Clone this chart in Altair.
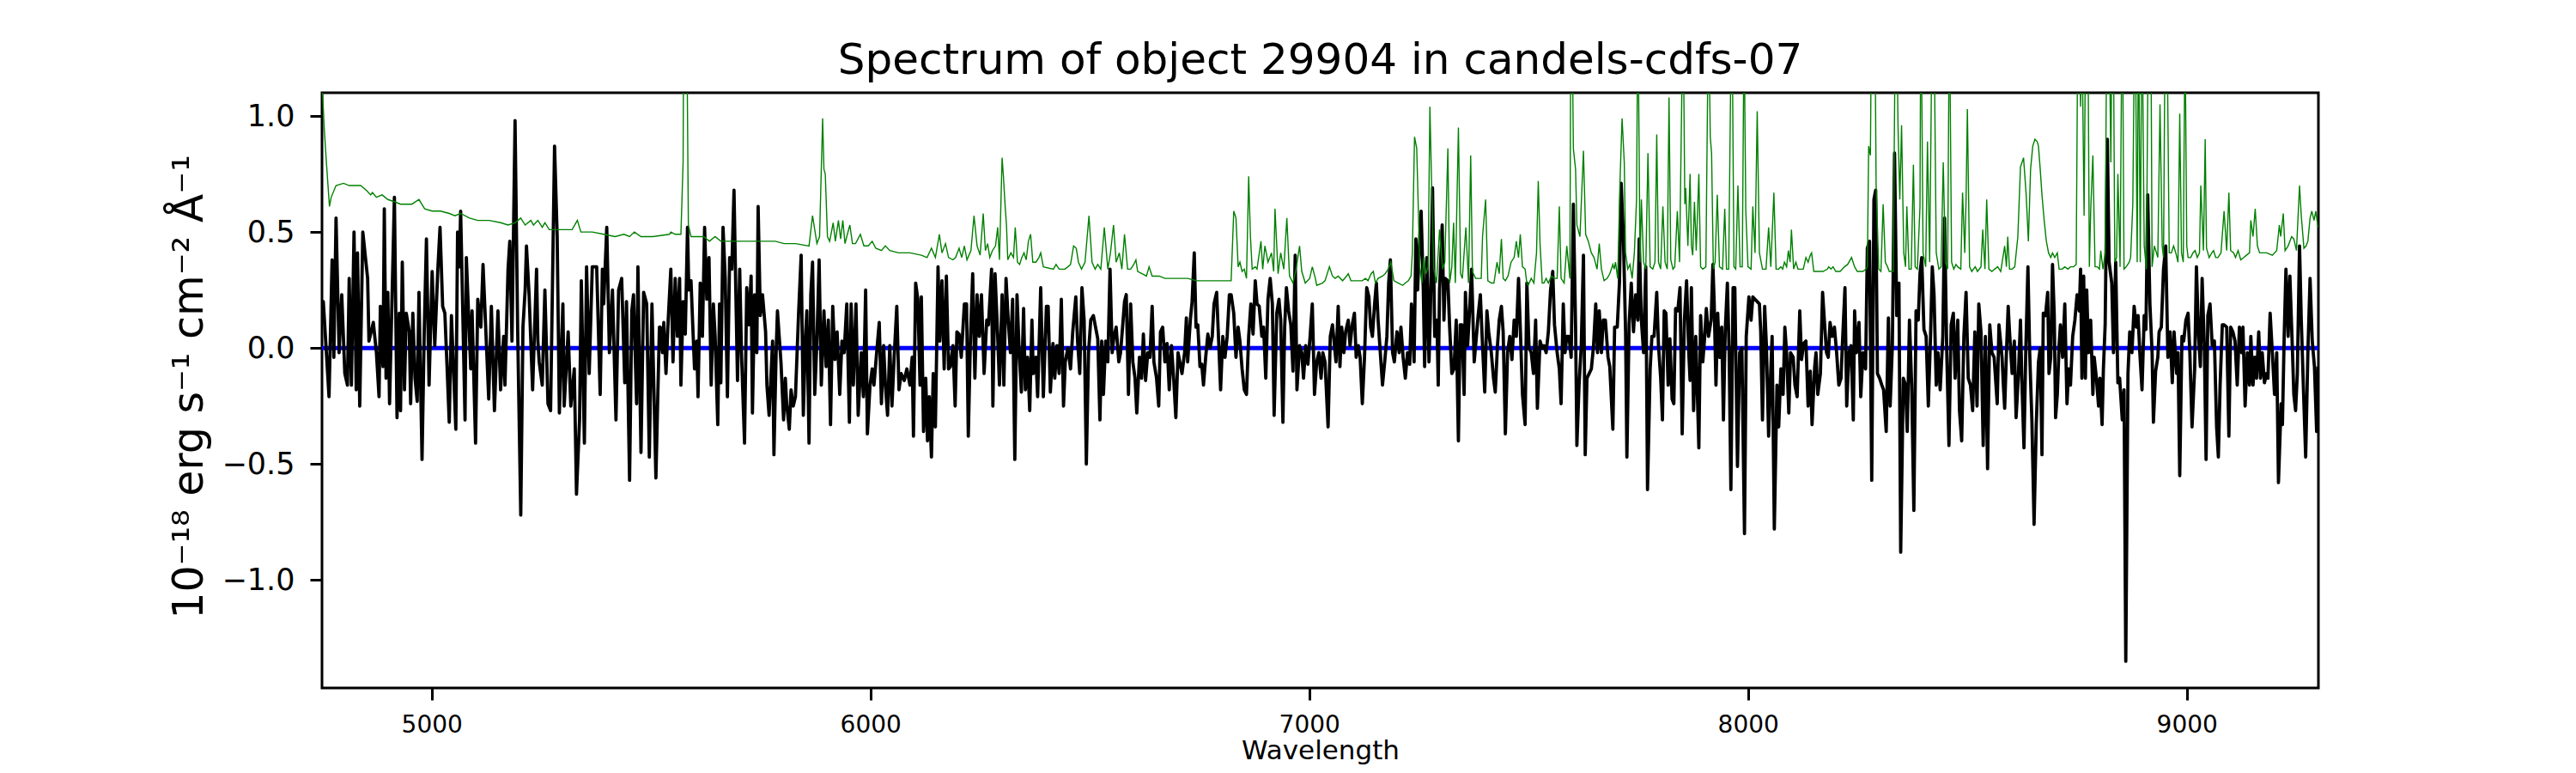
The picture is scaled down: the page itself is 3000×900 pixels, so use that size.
import altair as alt
import pandas as pd

# ---------------- observed spectrum (black) ----------------
flux_wl_a = [4750, 4753, 4766, 4773, 4777, 4782, 4789, 4795, 4802, 4808,
             4812, 4817, 4823, 4828, 4831, 4836, 4843, 4854, 4857, 4867,
             4874, 4880, 4883, 4889, 4892, 4896, 4900, 4904, 4915, 4921,
             4926, 4929, 4933, 4938, 4942, 4949, 4952, 4957, 4962, 4967,
             4971, 4978, 4983, 4988, 4994, 5001, 5007, 5014, 5019, 5025,
             5030, 5035, 5040, 5045, 5055, 5059, 5063, 5066, 5076, 5079,
             5089, 5092, 5100, 5105, 5112, 5117, 5130, 5136, 5143, 5151,
             5157, 5164, 5167, 5174, 5178, 5183, 5190, 5196, 5203, 5208,
             5213, 5216, 5222, 5230, 5239, 5242, 5245, 5252, 5258, 5265,
             5271, 5280, 5286, 5291, 5299, 5302, 5311, 5317, 5325, 5330,
             5337, 5341, 5348, 5353, 5359, 5366, 5376, 5384, 5389, 5392,
             5399, 5405, 5412, 5420, 5426, 5433, 5440, 5444, 5451, 5456,
             5460, 5467, 5470, 5477, 5483, 5490, 5496, 5502, 5511, 5519]
flux_val_a = [0.12, 0.20, -0.21, 0.38, -0.04, 0.56, -0.02, 0.23, -0.11, -0.16,
              0.30, -0.16, 0.50, -0.18, 0.41, -0.25, 0.50, 0.30, 0.03, 0.11,
              -0.02, -0.21, 0.18, -0.08, 0.60, -0.13, 0.24, -0.24, 0.65, -0.30,
              0.15, -0.27, 0.37, -0.18, 0.15, 0.07, -0.24, 0.15, -0.13, -0.23,
              0.24, -0.48, 0.07, 0.47, -0.16, 0.33, 0.01, 0.34, 0.52, 0.18,
              0.15, -0.08, -0.32, 0.14, -0.35, 0.50, 0.35, 0.59, -0.31, 0.39,
              -0.09, 0.16, -0.41, 0.21, 0.09, 0.36, -0.22, 0.18, -0.27, 0.16,
              -0.18, 0.05, -0.16, 0.34, 0.46, 0.03, 0.98, 0.07, -0.72, 0.09,
              0.25, 0.44, 0.23, -0.18, 0.34, 0.03, -0.06, -0.16, 0.25, -0.24,
              -0.27, 0.87, 0.48, -0.28, 0.19, -0.25, 0.07, -0.25, -0.09, -0.63,
              -0.31, 0.29, -0.41, 0.35, -0.11, 0.35, 0.35, -0.20, 0.34, 0.19,
              0.52, -0.02, 0.25, -0.31, 0.25, 0.30, -0.15, 0.20, -0.57, 0.16,
              0.23, -0.24, 0.35, -0.45, 0.24, 0.19, -0.47, 0.19, -0.56, 0.09]

flux_wl_b = [5521, 5526, 5529, 5534, 5539, 5545, 5550, 5555, 5560, 5565,
             5568, 5573, 5578, 5583, 5586, 5591, 5596, 5599, 5604, 5607,
             5612, 5617, 5622, 5627, 5632, 5637, 5642, 5646, 5652, 5656,
             5659, 5664, 5669, 5674, 5679, 5684, 5689, 5693, 5697, 5702,
             5706, 5713, 5718, 5723, 5728, 5731, 5736, 5741, 5744, 5749,
             5754, 5761, 5764, 5769, 5774, 5777, 5780, 5785, 5788, 5792,
             5796, 5802, 5806, 5809, 5815, 5819, 5824, 5829, 5836, 5842,
             5847, 5852, 5855, 5860, 5864, 5868, 5873, 5878, 5883, 5888,
             5894, 5899, 5904, 5909, 5914, 5919, 5924, 5930, 5935, 5940,
             5946, 5952, 5956, 5961, 5967, 5972, 5979, 5984, 5989, 5993,
             5999, 6004, 6008, 6015, 6020, 6025, 6030, 6034, 6039, 6044,
             6049, 6054, 6060, 6065, 6070, 6077, 6083, 6090, 6095, 6098,
             6103, 6108, 6113, 6116, 6121, 6126, 6130, 6134, 6139, 6143,
             6148, 6154, 6158, 6163, 6168, 6173, 6178, 6182, 6188, 6193,
             6197, 6202, 6207, 6214, 6219, 6223, 6228, 6233, 6238, 6243,
             6248, 6253, 6259, 6265, 6269, 6276, 6279, 6284]
flux_val_b = [0.09, -0.02, 0.11, -0.11, 0.12, 0.34, -0.06, 0.30, 0.05, 0.30,
              -0.16, 0.20, 0.06, 0.52, 0.25, 0.29, 0.05, -0.09, 0.03, -0.21,
              0.28, 0.05, 0.52, 0.21, 0.39, -0.16, 0.19, 0.05, -0.33, 0.19,
              -0.15, 0.52, 0.30, -0.21, 0.39, 0.34, 0.68, 0.26, -0.14, 0.34,
              -0.02, -0.41, 0.26, 0.10, 0.31, -0.28, 0.23, -0.02, 0.61, 0.14,
              0.23, 0.07, -0.16, -0.29, -0.09, 0.03, -0.46, -0.02, 0.16, 0.05,
              -0.06, -0.31, -0.13, -0.24, -0.35, -0.18, -0.25, -0.21, 0.14, 0.40,
              -0.29, 0.05, 0.16, -0.41, 0.23, 0.37, -0.20, 0.03, 0.38, -0.16,
              0.16, -0.08, 0.12, -0.33, 0.18, -0.05, 0.07, -0.20, 0.03, -0.02,
              0.19, -0.32, 0.19, -0.16, 0.19, -0.29, -0.02, -0.21, 0.25, -0.37,
              -0.16, -0.09, -0.16, 0.00, 0.11, -0.24, 0.01, -0.16, -0.29, 0.01,
              -0.25, -0.04, 0.18, -0.18, -0.11, -0.14, -0.09, -0.16, -0.04, -0.38,
              0.28, 0.21, -0.16, 0.22, -0.36, -0.13, -0.40, -0.21, -0.47, -0.11,
              -0.34, 0.35, 0.03, 0.29, -0.09, 0.31, -0.09, -0.08, 0.01, -0.25,
              0.07, 0.06, -0.04, 0.19, 0.19, -0.38, 0.05, 0.32, -0.13, 0.23,
              0.05, 0.23, -0.11, 0.12, 0.10, 0.34, -0.25, 0.32]

flux_wl_c = [6290, 6294, 6300, 6304, 6309, 6314, 6319, 6324, 6329, 6334,
             6339, 6344, 6349, 6353, 6358, 6363, 6368, 6371, 6377, 6381,
             6388, 6394, 6401, 6405, 6410, 6416, 6420, 6425, 6430, 6435,
             6440, 6444, 6450, 6456, 6461, 6468, 6472, 6477, 6482, 6487,
             6492, 6497, 6502, 6508, 6513, 6518, 6523, 6527, 6531, 6536,
             6541, 6546, 6551, 6555, 6560, 6566, 6570, 6575, 6579, 6583,
             6588, 6593, 6598, 6603, 6607, 6613, 6618, 6622, 6627, 6632,
             6637, 6642, 6646, 6652, 6657, 6661, 6666, 6671, 6676, 6681,
             6686, 6691, 6696, 6701, 6705, 6710, 6716, 6720, 6723, 6729,
             6733, 6738, 6742, 6746, 6751, 6755, 6759, 6764, 6769, 6774,
             6779, 6783, 6789, 6794, 6798, 6803, 6808, 6813, 6818, 6822,
             6828, 6833, 6838, 6842, 6847, 6852, 6857, 6862, 6867, 6872,
             6877, 6881, 6886, 6892, 6896, 6901, 6906, 6911, 6916, 6920,
             6926, 6931, 6935, 6940, 6944, 6948, 6953, 6958, 6963, 6968,
             6972, 6978, 6983, 6987, 6992, 6997, 7002, 7007, 7012, 7017,
             7022, 7027, 7031, 7036, 7043, 7048]
flux_val_c = [0.05, -0.16, 0.23, -0.16, 0.30, 0.12, -0.02, 0.21, -0.48, 0.23,
              -0.02, -0.19, 0.17, -0.18, -0.04, -0.27, 0.12, -0.11, -0.04, -0.21,
              0.26, -0.21, 0.18, 0.18, -0.19, 0.02, -0.13, 0.01, -0.11, 0.21,
              -0.25, -0.06, 0.00, -0.09, 0.07, 0.22, 0.03, -0.11, 0.26, 0.12,
              -0.50, -0.02, 0.12, 0.14, 0.09, 0.04, -0.31, 0.03, -0.20, 0.03,
              -0.06, 0.34, -0.02, 0.05, 0.09, -0.06, -0.02, 0.10, 0.20, 0.23,
              -0.20, 0.19, -0.06, -0.13, -0.28, -0.04, -0.13, 0.06, -0.14, -0.02,
              -0.04, 0.18, -0.06, -0.13, -0.25, 0.07, 0.09, -0.06, 0.02, -0.18,
              0.01, -0.13, -0.30, -0.02, -0.06, -0.11, -0.02, 0.13, -0.06, 0.12,
              0.20, 0.41, 0.09, 0.10, -0.08, -0.07, -0.16, -0.04, 0.06, 0.00,
              0.05, 0.19, 0.24, 0.01, -0.18, 0.05, -0.04, 0.05, 0.23, 0.23,
              0.15, -0.04, 0.09, 0.03, -0.09, -0.18, -0.20, 0.05, 0.19, 0.06,
              0.29, 0.19, 0.18, 0.05, 0.09, -0.13, 0.21, 0.30, 0.19, -0.29,
              0.15, 0.21, 0.12, -0.32, 0.09, 0.26, 0.16, 0.10, -0.10, 0.40,
              -0.18, 0.01, -0.02, -0.13, 0.01, -0.07, 0.05, 0.19, -0.20, -0.06,
              -0.02, -0.13, -0.02, -0.06, -0.34, 0.05]

flux_wl_d = [7053, 7061, 7066, 7070, 7074, 7079, 7083, 7089, 7093, 7098,
             7103, 7107, 7112, 7116, 7121, 7126, 7131, 7136, 7140, 7144,
             7149, 7153, 7157, 7162, 7167, 7172, 7177, 7181, 7185, 7190,
             7194, 7200, 7205, 7209, 7214, 7219, 7224, 7229, 7233, 7239,
             7243, 7247, 7252, 7255, 7260, 7263, 7268, 7273, 7276, 7281,
             7286, 7291, 7294, 7297, 7303, 7307, 7310, 7316, 7320, 7325,
             7330, 7335, 7340, 7344, 7348, 7353, 7356, 7361, 7366, 7370,
             7376, 7381, 7385, 7390, 7395, 7400, 7405, 7409, 7415, 7420,
             7424, 7429, 7433, 7438, 7442, 7447, 7452, 7457, 7462, 7467,
             7472, 7477, 7481, 7486, 7492, 7496, 7501, 7506, 7511, 7516,
             7520, 7526, 7531, 7535, 7540, 7545, 7550, 7555, 7559, 7565,
             7570, 7574, 7579, 7583, 7587, 7592, 7597, 7602, 7607, 7610,
             7615, 7620, 7625, 7629, 7633, 7638, 7643, 7648, 7653, 7657,
             7661, 7666, 7670, 7675, 7681, 7685, 7692, 7696, 7702, 7707,
             7711, 7716, 7721, 7724, 7729, 7734, 7739, 7744, 7749, 7752,
             7757, 7762, 7767, 7771, 7777, 7781, 7786, 7792, 7796, 7801,
             7805, 7809]
flux_val_d = [0.10, -0.06, 0.18, -0.08, 0.09, -0.02, 0.07, 0.12, 0.01, 0.10,
              0.15, -0.04, 0.01, -0.04, -0.24, -0.04, 0.26, 0.22, 0.09, 0.05,
              0.19, 0.28, 0.12, -0.02, -0.16, -0.06, 0.05, 0.28, 0.38, -0.02,
              -0.06, 0.07, -0.02, 0.09, -0.04, -0.13, -0.02, -0.07, 0.19, -0.06,
              0.47, 0.25, 0.48, 0.59, 0.25, -0.08, 0.39, -0.06, 0.14, 0.69,
              0.05, 0.12, -0.16, 0.25, 0.53, 0.12, 0.30, 0.29, 0.09, -0.11,
              -0.09, 0.12, -0.40, 0.10, 0.10, -0.20, 0.24, 0.01, 0.18, 0.34,
              -0.06, 0.05, 0.14, 0.23, 0.01, -0.19, 0.16, 0.07, -0.02, -0.13,
              -0.19, 0.01, 0.12, 0.18, 0.07, -0.37, -0.02, 0.05, -0.05, 0.12,
              0.05, 0.30, 0.09, -0.20, -0.33, 0.28, 0.00, -0.02, -0.11, 0.12,
              -0.26, 0.03, 0.00, 0.01, -0.02, 0.07, 0.25, 0.33, 0.10, -0.02,
              -0.09, -0.24, 0.19, -0.02, 0.05, 0.05, -0.04, 0.62, 0.10, -0.42,
              -0.16, 0.01, 0.40, -0.46, -0.13, -0.11, -0.09, 0.01, 0.19, -0.02,
              0.16, -0.02, 0.12, 0.12, -0.04, -0.08, -0.35, 0.09, 0.09, 0.28,
              0.71, 0.48, 0.07, -0.47, 0.10, 0.28, 0.07, 0.23, 0.12, 0.47,
              0.12, -0.02, 0.35, -0.61, -0.09, 0.05, 0.05, 0.24, 0.01, -0.13,
              -0.31, 0.16]

flux_wl_e = [7813, 7818, 7822, 7827, 7831, 7835, 7840, 7845, 7850, 7855,
             7860, 7865, 7868, 7871, 7876, 7881, 7888, 7892, 7897, 7901,
             7905, 7910, 7916, 7920, 7923, 7927, 7931, 7935, 7940, 7944,
             7948, 7953, 7957, 7961, 7966, 7970, 7976, 7981, 7986, 7992,
             7996, 8002, 8007, 8011, 8016, 8021, 8026, 8029, 8033, 8038,
             8042, 8047, 8052, 8055, 8060, 8066, 8070, 8075, 8080, 8084,
             8088, 8093, 8097, 8103, 8107, 8112, 8118, 8122, 8127, 8132,
             8137, 8142, 8146, 8152, 8155, 8159, 8165, 8170, 8174, 8179,
             8183, 8187, 8192, 8197, 8202, 8207, 8212, 8215, 8221, 8225,
             8230, 8235, 8240, 8243, 8247, 8253, 8257, 8262, 8268, 8272,
             8277, 8282, 8287, 8291, 8295, 8300, 8305, 8309, 8315, 8320,
             8324, 8329, 8334, 8339, 8344, 8348, 8354, 8359, 8363, 8368,
             8373, 8378, 8383, 8388, 8392, 8396, 8401, 8406, 8411, 8416,
             8420, 8424, 8429, 8433, 8438, 8444, 8448, 8453, 8458, 8463,
             8468, 8472, 8478, 8482, 8487, 8492, 8497, 8502, 8507, 8512,
             8517, 8522, 8526, 8531, 8536, 8541, 8546, 8551, 8556, 8561,
             8568, 8572]
flux_val_e = [0.15, -0.16, 0.04, -0.22, -0.24, 0.17, 0.16, 0.26, -0.37, 0.12,
              0.29, -0.02, -0.14, 0.26, -0.27, 0.05, -0.43, 0.14, -0.06, 0.04,
              0.17, 0.05, 0.12, 0.36, 0.19, -0.16, 0.15, -0.04, 0.09, -0.31,
              0.07, 0.28, -0.02, -0.61, 0.26, 0.26, -0.51, -0.02, 0.00, -0.80,
              0.05, 0.22, 0.12, 0.22, 0.21, 0.20, 0.19, 0.07, -0.31, 0.18,
              0.01, -0.38, -0.09, 0.05, -0.78, -0.16, -0.34, -0.09, -0.20, 0.09,
              -0.02, -0.28, -0.02, -0.04, -0.16, -0.21, 0.16, -0.05, 0.02, 0.03,
              -0.25, -0.10, -0.33, -0.08, -0.02, -0.20, -0.11, 0.24, 0.12, -0.02,
              -0.04, 0.11, 0.05, 0.09, -0.02, -0.16, -0.13, 0.01, 0.26, -0.25,
              -0.02, 0.01, -0.31, 0.16, -0.02, 0.11, -0.21, -0.02, -0.09, 0.43,
              0.46, -0.57, 0.64, 0.68, -0.11, -0.13, -0.16, -0.18, -0.36, 0.13,
              -0.25, 0.01, 0.84, 0.14, 0.28, -0.88, -0.13, -0.16, -0.36, 0.12,
              -0.16, -0.70, 0.16, 0.12, 0.32, 0.39, 0.08, 0.05, -0.25, 0.05,
              0.35, 0.23, -0.16, -0.02, -0.18, 0.05, 0.56, -0.02, -0.42, 0.10,
              0.15, -0.13, 0.12, -0.27, -0.40, 0.05, 0.24, -0.13, -0.16, -0.27,
              0.07, -0.25, 0.19, 0.07, -0.42, 0.05, -0.52, 0.10, -0.02, -0.04,
              -0.24, 0.10]

flux_wl_f = [8579, 8582, 8585, 8589, 8593, 8596, 8602, 8607, 8611, 8616,
             8621, 8624, 8629, 8633, 8638, 8642, 8647, 8652, 8657, 8662,
             8666, 8670, 8673, 8678, 8683, 8686, 8690, 8694, 8698, 8701,
             8705, 8709, 8712, 8717, 8722, 8727, 8731, 8735, 8740, 8745,
             8750, 8755, 8758, 8761, 8765, 8769, 8772, 8776, 8781, 8786,
             8789, 8794, 8799, 8802, 8807, 8810, 8814, 8819, 8823, 8829,
             8833, 8838, 8843, 8847, 8853, 8857, 8861, 8866, 8870, 8875,
             8880, 8885, 8889, 8893, 8898, 8903, 8907, 8911, 8916, 8921,
             8924, 8929, 8934, 8937, 8942, 8947, 8952, 8957, 8962, 8967,
             8971, 8977, 8980, 8984, 8989, 8993, 8998, 9003, 9007, 9012,
             9018, 9022, 9027, 9031, 9035, 9040, 9044, 9048, 9053, 9058,
             9063, 9068, 9072, 9076, 9081, 9085, 9091, 9096, 9100, 9105,
             9110, 9115, 9120, 9125, 9128, 9133, 9138, 9143, 9146, 9151,
             9155, 9159, 9164, 9168, 9172, 9177, 9182, 9185, 9190, 9195,
             9200, 9205, 9209, 9215, 9218, 9222, 9226, 9231, 9235, 9241,
             9244, 9248, 9252, 9257, 9261, 9267, 9271, 9276, 9281, 9286,
             9291, 9296, 9299]
flux_val_f = [-0.04, -0.16, -0.26, -0.02, 0.18, 0.07, -0.11, 0.03, -0.30, -0.13,
              0.12, -0.13, -0.43, -0.02, 0.35, -0.02, -0.31, -0.76, -0.33, -0.06,
              0.00, -0.46, 0.15, 0.14, 0.24, -0.11, -0.04, 0.36, 0.14, -0.30,
              -0.20, 0.01, 0.10, -0.04, 0.19, -0.24, -0.09, -0.16, 0.05, 0.12,
              0.23, 0.16, 0.34, -0.13, 0.31, -0.13, 0.25, -0.02, 0.12, -0.20,
              -0.04, -0.13, -0.25, -0.13, -0.33, -0.09, 0.10, 0.90, 0.37, 0.28,
              -0.02, 0.37, -0.15, -0.13, -0.31, -0.18, -1.35, -0.11, 0.07, -0.02,
              0.18, 0.09, 0.14, -0.02, -0.18, 0.14, 0.08, 0.66, 0.19, -0.02,
              -0.32, -0.10, -0.04, 0.07, 0.09, 0.34, 0.44, -0.04, 0.07, -0.15,
              0.07, -0.11, -0.02, -0.55, 0.05, 0.03, 0.12, 0.15, -0.02, -0.34,
              -0.09, 0.35, 0.05, -0.08, 0.30, 0.01, -0.48, 0.14, 0.19, 0.01,
              0.03, -0.34, -0.47, -0.16, 0.10, 0.10, 0.09, -0.38, 0.09, 0.07,
              0.03, -0.16, 0.09, -0.02, 0.09, -0.25, -0.02, -0.16, 0.05, -0.16,
              -0.04, -0.13, 0.07, -0.13, -0.02, -0.15, -0.11, -0.13, 0.15, -0.02,
              -0.20, -0.02, -0.58, -0.24, -0.33, 0.05, 0.34, 0.05, 0.31, -0.02,
              -0.20, -0.27, -0.11, 0.44, 0.12, -0.24, -0.47, -0.02, 0.30, 0.03,
              -0.08, -0.36, -0.08]

# ---------------- noise / sky spectrum (green) ----------------
sky_wl_a = [4750, 4755, 4760, 4767, 4771, 4782, 4799, 4812, 4838, 4851,
            4861, 4865, 4874, 4887, 4900, 4916, 4929, 4955, 4971, 4984,
            5001, 5020, 5040, 5053, 5066, 5086, 5105, 5131, 5157, 5174,
            5190, 5203, 5213, 5226, 5232, 5242, 5252, 5258, 5268, 5281,
            5307, 5320, 5332, 5340, 5366, 5392, 5418, 5438, 5451, 5462,
            5477]
sky_val_a = [1.15, 0.95, 0.80, 0.61, 0.65, 0.70, 0.71, 0.70, 0.70, 0.68,
             0.66, 0.67, 0.65, 0.66, 0.64, 0.63, 0.62, 0.62, 0.64, 0.60,
             0.59, 0.59, 0.58, 0.57, 0.58, 0.56, 0.55, 0.55, 0.54, 0.53,
             0.54, 0.56, 0.53, 0.55, 0.53, 0.55, 0.52, 0.54, 0.51, 0.51,
             0.51, 0.51, 0.55, 0.50, 0.50, 0.49, 0.48, 0.49, 0.48, 0.50,
             0.48]

sky_wl_b = [5503, 5542, 5545, 5555, 5568, 5573, 5576, 5578, 5581, 5585,
            5591, 5601, 5611, 5620, 5633, 5646, 5659, 5686, 5712, 5731,
            5751, 5770, 5783, 5803, 5829, 5860, 5868, 5878, 5884, 5891,
            5894, 5897, 5902, 5907, 5915, 5920, 5927, 5932, 5937, 5942,
            5946, 5953, 5959, 5966, 5977, 5985, 5995, 6004, 6012, 6025,
            6034, 6044, 6064, 6090, 6116, 6129, 6139, 6148, 6157, 6163,
            6171, 6178, 6188, 6194, 6202, 6208, 6214, 6220, 6229, 6236,
            6243, 6250, 6257, 6262, 6267, 6272, 6278, 6285]
sky_val_b = [0.48, 0.49, 0.50, 0.49, 0.49, 0.80, 2.2, 2.5, 1.5, 0.53,
             0.48, 0.48, 0.48, 0.48, 0.46, 0.48, 0.46, 0.46, 0.46, 0.46,
             0.46, 0.46, 0.46, 0.45, 0.45, 0.44, 0.57, 0.45, 0.48, 0.99,
             0.77, 0.75, 0.48, 0.46, 0.54, 0.46, 0.55, 0.47, 0.55, 0.45,
             0.48, 0.53, 0.45, 0.45, 0.49, 0.44, 0.44, 0.46, 0.43, 0.42,
             0.44, 0.42, 0.41, 0.41, 0.40, 0.39, 0.43, 0.39, 0.49, 0.41,
             0.45, 0.39, 0.38, 0.39, 0.43, 0.39, 0.44, 0.38, 0.42, 0.57,
             0.44, 0.40, 0.58, 0.42, 0.45, 0.39, 0.42, 0.44]

sky_wl_c = [6290, 6294, 6300, 6303, 6307, 6310, 6313, 6320, 6326, 6330,
            6335, 6340, 6345, 6350, 6355, 6360, 6365, 6370, 6377, 6384,
            6388, 6394, 6417, 6423, 6430, 6443, 6450, 6456, 6463, 6469,
            6474, 6481, 6489, 6498, 6505, 6512, 6518, 6525, 6533, 6541,
            6547, 6554, 6560, 6567, 6573, 6579, 6586, 6593, 6600, 6605,
            6609, 6619, 6629, 6635, 6642, 6658, 6671, 6697, 6723, 6743,
            6763, 6789, 6808, 6822, 6828, 6833, 6838, 6842, 6847, 6852,
            6857, 6862, 6866, 6870, 6877, 6881, 6890, 6894, 6899, 6906,
            6914, 6919, 6922, 6929, 6935, 6942, 6949, 6955, 6963, 6970,
            6978, 6983, 6991, 7001, 7007, 7014, 7017, 7030, 7036, 7046]
sky_val_c = [0.52, 0.38, 0.82, 0.74, 0.61, 0.53, 0.38, 0.41, 0.39, 0.52,
             0.37, 0.36, 0.39, 0.41, 0.38, 0.46, 0.49, 0.37, 0.37, 0.39,
             0.41, 0.35, 0.34, 0.36, 0.34, 0.34, 0.35, 0.36, 0.44, 0.43,
             0.37, 0.34, 0.37, 0.57, 0.37, 0.34, 0.36, 0.34, 0.52, 0.34,
             0.41, 0.53, 0.37, 0.41, 0.34, 0.49, 0.34, 0.34, 0.36, 0.38,
             0.33, 0.32, 0.31, 0.35, 0.31, 0.31, 0.30, 0.30, 0.30, 0.29,
             0.29, 0.29, 0.29, 0.29, 0.59, 0.56, 0.35, 0.37, 0.33, 0.34,
             0.30, 0.74, 0.48, 0.34, 0.35, 0.34, 0.46, 0.34, 0.44, 0.37,
             0.41, 0.33, 0.60, 0.32, 0.41, 0.34, 0.56, 0.31, 0.28, 0.34,
             0.44, 0.33, 0.28, 0.30, 0.35, 0.30, 0.27, 0.28, 0.29, 0.35]

sky_wl_d = [7053, 7059, 7066, 7076, 7085, 7089, 7095, 7108, 7121, 7128,
            7134, 7141, 7146, 7151, 7157, 7167, 7173, 7180, 7186, 7193,
            7203, 7213, 7219, 7226, 7232, 7235, 7240, 7245, 7252, 7257,
            7261, 7266, 7271, 7275, 7279, 7284, 7290, 7294, 7297, 7304,
            7309, 7316, 7320, 7325, 7329, 7333, 7340, 7345, 7349, 7357,
            7363, 7368, 7372, 7379, 7385, 7392, 7395, 7402, 7407, 7415,
            7421, 7428, 7433, 7438, 7442, 7447, 7453, 7460, 7467, 7472,
            7477, 7481, 7486, 7492, 7496, 7499, 7506, 7512, 7518, 7522,
            7526, 7531, 7535, 7540, 7545, 7552, 7558, 7565, 7570, 7574,
            7581, 7587, 7594, 7597, 7602, 7607, 7610, 7617, 7625, 7630,
            7636, 7643, 7649, 7656, 7661, 7666, 7672, 7679, 7685, 7692,
            7695, 7698, 7703, 7708, 7713, 7718, 7721, 7726, 7731, 7736,
            7741, 7746, 7749, 7754, 7757, 7762, 7767, 7772, 7777, 7783,
            7788, 7792, 7796, 7801, 7806, 7811]
sky_val_d = [0.31, 0.30, 0.31, 0.29, 0.31, 0.32, 0.29, 0.29, 0.29, 0.30,
             0.29, 0.32, 0.33, 0.28, 0.30, 0.31, 0.32, 0.34, 0.37, 0.29,
             0.28, 0.27, 0.28, 0.29, 0.31, 0.41, 0.91, 0.86, 0.35, 0.28,
             0.39, 0.32, 0.35, 1.04, 0.70, 0.34, 0.28, 0.41, 0.51, 0.34,
             0.37, 0.86, 0.28, 0.35, 0.54, 0.28, 0.95, 0.32, 0.30, 0.52,
             0.28, 0.83, 0.33, 0.30, 0.30, 0.30, 0.48, 0.64, 0.29, 0.28,
             0.28, 0.37, 0.32, 0.47, 0.30, 0.29, 0.31, 0.37, 0.39, 0.46,
             0.39, 0.49, 0.35, 0.34, 0.28, 0.27, 0.30, 0.28, 0.41, 0.72,
             0.45, 0.28, 0.28, 0.30, 0.28, 0.31, 0.30, 0.30, 0.61, 0.30,
             0.28, 0.44, 0.30, 1.8, 0.86, 0.77, 0.53, 0.48, 0.85, 0.49,
             0.46, 0.41, 0.39, 0.34, 0.45, 0.34, 0.29, 0.30, 0.32, 0.36,
             0.34, 0.37, 0.30, 0.70, 0.99, 0.80, 0.41, 0.34, 0.36, 0.30,
             0.41, 0.64, 1.5, 0.37, 0.64, 0.37, 0.34, 0.84, 0.35, 0.34,
             0.37, 0.92, 0.37, 0.34, 0.61, 0.37]

sky_wl_e = [7816, 7820, 7824, 7829, 7833, 7839, 7844, 7852, 7856, 7858,
            7863, 7868, 7871, 7874, 7878, 7882, 7888, 7892, 7897, 7904,
            7910, 7914, 7917, 7921, 7925, 7930, 7935, 7942, 7947, 7951,
            7956, 7963, 7968, 7972, 7977, 7982, 7987, 7991, 7995, 8000,
            8007, 8011, 8016, 8021, 8026, 8033, 8041, 8047, 8052, 8059,
            8064, 8070, 8075, 8079, 8083, 8088, 8092, 8096, 8099, 8104,
            8109, 8114, 8119, 8126, 8132, 8137, 8142, 8145, 8150, 8158,
            8171, 8181, 8184, 8189, 8194, 8200, 8210, 8220, 8227, 8236,
            8243, 8249, 8262, 8269, 8272, 8275, 8279, 8282, 8289, 8292,
            8298, 8303, 8308, 8313, 8318, 8322, 8331, 8337, 8342, 8346,
            8350, 8355, 8359, 8362, 8367, 8372, 8377, 8381, 8386, 8392,
            8394, 8399, 8405, 8409, 8414, 8420, 8424, 8429, 8435, 8440,
            8445, 8450, 8455, 8459, 8464, 8469, 8474, 8478, 8485, 8489,
            8494, 8497, 8500, 8505, 8510, 8518, 8523, 8531, 8535, 8540,
            8544, 8549, 8556, 8562, 8569]
sky_val_e = [0.34, 1.08, 0.38, 0.34, 0.35, 0.59, 0.37, 1.5, 0.62, 0.69,
             0.44, 0.75, 0.44, 0.40, 0.63, 0.42, 0.75, 0.35, 0.34, 0.35,
             1.5, 0.91, 0.84, 0.34, 0.37, 0.66, 0.35, 0.34, 0.60, 0.34,
             0.34, 1.6, 0.35, 0.34, 0.70, 0.35, 0.35, 1.4, 0.59, 0.35,
             0.34, 0.61, 0.41, 1.02, 0.41, 0.34, 0.34, 0.52, 0.35, 0.67,
             0.34, 0.34, 0.35, 0.34, 0.37, 0.35, 0.42, 0.37, 0.51, 0.34,
             0.37, 0.34, 0.34, 0.34, 0.39, 0.37, 0.40, 0.41, 0.33, 0.33,
             0.33, 0.34, 0.35, 0.34, 0.35, 0.33, 0.33, 0.35, 0.36, 0.39,
             0.35, 0.33, 0.33, 0.34, 0.35, 0.87, 0.83, 1.6, 1.5, 0.70,
             0.34, 0.33, 0.62, 0.37, 0.35, 0.33, 0.33, 1.7, 0.95, 0.64,
             0.96, 0.41, 0.35, 0.61, 0.34, 0.34, 0.79, 0.35, 0.34, 0.61,
             1.6, 0.41, 0.35, 0.89, 0.37, 1.5, 1.4, 0.41, 0.34, 0.35,
             0.80, 0.37, 0.34, 1.5, 0.37, 0.34, 0.36, 0.35, 0.34, 0.67,
             0.41, 0.64, 1.03, 0.35, 0.33, 0.35, 0.33, 0.35, 0.51, 0.34,
             0.64, 0.34, 0.33, 0.34, 0.35]

sky_wl_f = [8576, 8585, 8589, 8592, 8596, 8602, 8608, 8615, 8621, 8628,
            8634, 8639, 8644, 8649, 8654, 8659, 8662, 8666, 8670, 8675,
            8680, 8685, 8690, 8694, 8699, 8705, 8709, 8716, 8722, 8729,
            8735, 8742, 8748, 8752, 8755, 8758, 8761, 8766, 8770, 8774,
            8778, 8781, 8786, 8791, 8796, 8801, 8804, 8809, 8814, 8818,
            8822, 8827, 8830, 8833, 8836, 8840, 8843, 8848, 8853, 8857,
            8862, 8869, 8872, 8877, 8882, 8887, 8890, 8894, 8898, 8903,
            8908, 8913, 8918, 8921, 8926, 8931, 8934, 8939, 8944, 8947,
            8951, 8955, 8960, 8965, 8970, 8975, 8980, 8984, 8988, 8992,
            8996, 9000, 9003, 9009, 9014, 9019, 9024, 9029, 9032, 9038,
            9042, 9045, 9051, 9057, 9061, 9066, 9071, 9078, 9085, 9091,
            9096, 9100, 9107, 9111, 9117, 9123, 9130, 9136, 9143, 9146,
            9151, 9156, 9161, 9166, 9172, 9182, 9195, 9205, 9211, 9214,
            9220, 9224, 9231, 9239, 9244, 9250, 9257, 9261, 9267, 9272,
            9276, 9281, 9285, 9290, 9294, 9299]
sky_val_f = [0.33, 0.44, 0.35, 0.48, 0.34, 0.34, 0.35, 0.48, 0.78, 0.82,
             0.66, 0.46, 0.77, 0.87, 0.90, 0.89, 0.87, 0.77, 0.66, 0.55,
             0.46, 0.41, 0.39, 0.41, 0.39, 0.41, 0.34, 0.34, 0.35, 0.34,
             0.35, 0.35, 0.36, 1.5, 1.3, 1.04, 1.4, 0.57, 1.5, 1.6,
             0.35, 0.59, 0.83, 0.35, 0.35, 0.34, 0.42, 0.34, 0.41, 1.5,
             1.6, 0.80, 1.5, 1.3, 0.37, 0.39, 0.75, 0.35, 1.6, 0.34,
             0.35, 0.37, 0.39, 0.62, 1.6, 0.37, 1.5, 0.37, 1.5, 0.44,
             0.34, 1.6, 1.5, 0.35, 0.44, 0.41, 0.39, 1.05, 0.44, 0.39,
             1.5, 1.4, 0.41, 0.41, 0.44, 0.41, 0.37, 1.01, 0.41, 0.37,
             1.4, 0.44, 0.39, 0.39, 0.41, 0.42, 0.39, 0.41, 0.70, 0.42,
             0.90, 0.43, 0.39, 0.41, 0.42, 0.39, 0.39, 0.41, 0.59, 0.42,
             0.67, 0.42, 0.41, 0.39, 0.42, 0.38, 0.39, 0.40, 0.41, 0.55,
             0.48, 0.60, 0.44, 0.41, 0.41, 0.41, 0.40, 0.42, 0.53, 0.48,
             0.58, 0.42, 0.44, 0.48, 0.47, 0.42, 0.70, 0.57, 0.43, 0.44,
             0.46, 0.56, 0.59, 0.55, 0.59, 0.52]

# ---------------- zero level (blue) ----------------
zero_wl = [4750, 9300]
zero_val = [0.0, 0.0]

# ---------------- axis definitions ----------------
x_domain = [4750, 9300]
y_domain = [-1.465, 1.1]
x_ticks = [5000, 6000, 7000, 8000, 9000]
y_ticks = [-1.0, -0.5, 0.0, 0.5, 1.0]

title_text = "Spectrum of object 29904 in candels-cdfs-07"
x_title = "Wavelength"
y_title = "10\u207b\u00b9\u2078 erg s\u207b\u00b9 cm\u207b\u00b2 \u00c5\u207b\u00b9"


def frame(wl_parts, val_parts):
    wl, val = [], []
    for w, v in zip(wl_parts, val_parts):
        n = min(len(w), len(v))
        wl += list(w[:n])
        val += list(v[:n])
    return pd.DataFrame({"wavelength": wl, "flux": val})


flux_df = frame([flux_wl_a, flux_wl_b, flux_wl_c, flux_wl_d, flux_wl_e, flux_wl_f],
                [flux_val_a, flux_val_b, flux_val_c, flux_val_d, flux_val_e, flux_val_f])
sky_df = frame([sky_wl_a, sky_wl_b, sky_wl_c, sky_wl_d, sky_wl_e, sky_wl_f],
               [sky_val_a, sky_val_b, sky_val_c, sky_val_d, sky_val_e, sky_val_f])
zero_df = frame([zero_wl], [zero_val])

FONT = "DejaVu Sans"

x_enc = alt.X(
    "wavelength:Q",
    scale=alt.Scale(domain=x_domain, nice=False, zero=False),
    axis=alt.Axis(
        values=x_ticks, format="d", title=x_title,
        labelFontSize=28, titleFontSize=31,
        tickSize=14, tickWidth=3, labelPadding=15,
        titleBaseline="alphabetic", titleY=82,
    ),
)
y_enc = alt.Y(
    "flux:Q",
    scale=alt.Scale(domain=y_domain, nice=False, zero=False),
    axis=alt.Axis(
        values=y_ticks, format=".1f", title=y_title,
        labelFontSize=35, titleFontSize=49,
        tickSize=14, tickWidth=3, labelPadding=18,
        titleAngle=270, titleBaseline="alphabetic", titleAlign="center",
        titleX=-140, titleY=342,
    ),
)

zero_line = alt.Chart(zero_df).mark_line(color="#0000ff", strokeWidth=5, clip=True).encode(
    x=x_enc, y=y_enc
)
flux_line = alt.Chart(flux_df).mark_line(color="#000000", strokeWidth=3.8, clip=True,
                                         strokeJoin="round").encode(x=x_enc, y=y_enc)
sky_line = alt.Chart(sky_df).mark_line(color="#008000", strokeWidth=1.4, clip=True).encode(
    x=x_enc, y=y_enc
)

chart = (
    alt.layer(zero_line, flux_line, sky_line)
    .properties(
        width=2325,
        height=693,
        title=alt.TitleParams(
            text=title_text, font=FONT, fontSize=50, fontWeight="normal",
            color="black", anchor="middle", offset=16, baseline="bottom", dy=54,
        ),
        padding={"left": 367, "top": 100, "right": 292, "bottom": 90},
        autosize=alt.AutoSizeParams(type="none"),
        background="white",
    )
    .configure_view(stroke="black", strokeWidth=3)
    .configure_axis(
        grid=False, domain=False,
        labelFont=FONT, titleFont=FONT, titleFontWeight="normal",
        labelColor="black", titleColor="black", tickColor="black",
    )
)

chart.save("out.html", embed_options={"renderer": "svg", "actions": False})
